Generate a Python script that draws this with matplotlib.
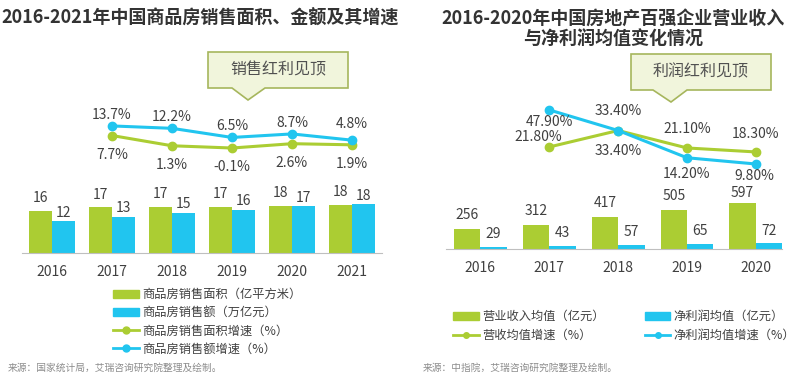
import numpy as np
import matplotlib.pyplot as plt
from matplotlib.patches import Polygon, Patch
from matplotlib.lines import Line2D

plt.rcParams['font.family'] = ['Noto Sans CJK SC', 'DejaVu Sans']

# left chart data
years_l = ['2016', '2017', '2018', '2019', '2020', '2021']
area = [15.7, 16.9, 17.2, 17.2, 17.6, 17.9]          # 亿平方米
area_lbl = ['16', '17', '17', '17', '18', '18']
amount = [11.8, 13.4, 15.0, 16.0, 17.4, 18.2]        # 万亿元
amount_lbl = ['12', '13', '15', '16', '17', '18']
area_growth = [7.7, 1.3, -0.1, 2.6, 1.9]             # 2017-2021
amount_growth = [13.7, 12.2, 6.5, 8.7, 4.8]

# right chart data
years_r = ['2016', '2017', '2018', '2019', '2020']
revenue = [256, 312, 417, 505, 597]
profit = [29, 43, 57, 65, 72]
rev_growth = [21.8, 33.4, 21.1, 18.3]                # 2017-2020
profit_growth = [47.9, 33.4, 14.2, 9.8]

GREEN = '#abcd33'
BLUE = '#21c5ef'
TXT = '#404040'

W, H = 800, 378
fig = plt.figure(figsize=(8, 3.78), dpi=100)


def rect(x0, y0, x1, y1):
    # pixel box (top-left origin) -> figure fraction
    return [x0 / W, 1 - y1 / H, (x1 - x0) / W, (y1 - y0) / H]


def fpts(pts):
    return [(x / W, 1 - y / H) for x, y in pts]


def callout(x0, y0, x1, y1, tip, text):
    bx0, tx, bx1, ty = tip
    pts = [(x0, y0), (x1, y0), (x1, y1), (bx1, y1), (tx, ty), (bx0, y1), (x0, y1)]
    fig.patches.append(Polygon(fpts(pts), closed=True, transform=fig.transFigure,
                               facecolor='#f1f5dc', edgecolor='#a6b65c', lw=1.2))
    fig.text((x0 + x1) / 2 / W, 1 - (y0 + y1) / 2 / H, text, ha='center', va='center',
             fontsize=11.5, color='#505050')


def style(ax):
    for s in ['top', 'right', 'left']:
        ax.spines[s].set_visible(False)
    ax.spines['bottom'].set_color('#bfbfbf')
    ax.set_yticks([])
    ax.tick_params(axis='x', length=0, labelsize=10, labelcolor=TXT, pad=9)


# ---------------- left chart ----------------
ax = fig.add_axes(rect(22, 100, 382, 253))
x = np.arange(len(years_l))
bw = 0.383
ax.bar(x - bw / 2, area, bw, color=GREEN)
ax.bar(x + bw / 2, amount, bw, color=BLUE)
ax.set_xlim(-0.5, 5.5)
ax.set_ylim(0, 56.7)
ax.set_xticks(x, years_l)
style(ax)
for xi, v, t in zip(x, area, area_lbl):
    ax.annotate(t, (xi - bw / 2, v), xytext=(0, 4), textcoords='offset points',
                ha='center', va='bottom', fontsize=10, color=TXT)
for xi, v, t in zip(x, amount, amount_lbl):
    ax.annotate(t, (xi + bw / 2, v), xytext=(0, 1), textcoords='offset points',
                ha='center', va='bottom', fontsize=10, color=TXT)

ax2 = ax.twinx()
ax2.set_ylim(-65.7, 29.9)
ax2.axis('off')
xl = x[1:]
ax2.plot(xl, area_growth, color=GREEN, lw=2.2, marker='o', ms=6)
ax2.plot(xl, amount_growth, color=BLUE, lw=2.2, marker='o', ms=6)
amt_off = [8, 8, 8, 8, 12]
for xi, v in zip(xl, area_growth):
    ax2.annotate(f'{v}%', (xi, v), xytext=(0, -14), textcoords='offset points',
                 ha='center', va='center', fontsize=10, color=TXT)
for xi, v, o in zip(xl, amount_growth, amt_off):
    ax2.annotate(f'{v}%', (xi, v), xytext=(0, o), textcoords='offset points',
                 ha='center', va='center', fontsize=10, color=TXT)

fig.text(200 / W, 1 - 18 / H, '2016-2021年中国商品房销售面积、金额及其增速',
         ha='center', va='center', fontsize=13, fontweight='bold', color='#333333')
callout(208, 52, 348, 88, (232, 248, 265, 100), '销售红利见顶')

ax.legend(handles=[Patch(color=GREEN, label='商品房销售面积（亿平方米）'),
                   Patch(color=BLUE, label='商品房销售额（万亿元）'),
                   Line2D([], [], color=GREEN, lw=2, marker='o', ms=5, label='商品房销售面积增速（%）'),
                   Line2D([], [], color=BLUE, lw=2, marker='o', ms=5, label='商品房销售额增速（%）')],
          loc='upper left', bbox_to_anchor=(107 / W, 1 - 282 / H), bbox_transform=fig.transFigure,
          frameon=False, fontsize=8.8, labelcolor=TXT, handlelength=2.1, handleheight=0.65,
          handletextpad=0.25, labelspacing=0.42, borderpad=0)

fig.text(8 / W, 1 - 368 / H, '来源：国家统计局，艾瑞咨询研究院整理及绘制。',
         ha='left', va='center', fontsize=7, color='#8c8c8c')

# ---------------- right chart ----------------
bx = fig.add_axes(rect(446, 100, 782, 249))
xr = np.arange(len(years_r))
bw = 0.384
bx.bar(xr - bw / 2, revenue, bw, color=GREEN)
bx.bar(xr + bw / 2, profit, bw, color=BLUE)
bx.set_xlim(-0.5, 4.38)
bx.set_ylim(0, 1933)
bx.set_xticks(xr, years_r)
style(bx)
rev_lbl_off = [5, 5, 5, 5, 2]
for xi, v, o in zip(xr, revenue, rev_lbl_off):
    bx.annotate(str(v), (xi - bw / 2, v), xytext=(0, o), textcoords='offset points',
                ha='center', va='bottom', fontsize=10, color=TXT)
for xi, v in zip(xr, profit):
    bx.annotate(str(v), (xi + bw / 2, v), xytext=(0, 4), textcoords='offset points',
                ha='center', va='bottom', fontsize=10, color=TXT)

bx2 = bx.twinx()
bx2.set_ylim(-50.1, 54.9)
bx2.axis('off')
xr2 = xr[1:]
bx2.plot(xr2, rev_growth, color=GREEN, lw=2.2, marker='o', ms=6)
bx2.plot(xr2, profit_growth, color=BLUE, lw=2.2, marker='o', ms=6)
rev_off = [(-8, 7), (0, 14), (0, 14), (0, 13)]
pro_off = [(0, -9), (0, -15), (0, -12), (-1, -9)]
for xi, v, o in zip(xr2, rev_growth, rev_off):
    bx2.annotate(f'{v:.2f}%', (xi, v), xytext=o, textcoords='offset points',
                 ha='center', va='center', fontsize=10, color=TXT)
for xi, v, o in zip(xr2, profit_growth, pro_off):
    bx2.annotate(f'{v:.2f}%', (xi, v), xytext=o, textcoords='offset points',
                 ha='center', va='center', fontsize=10, color=TXT)

fig.text(613 / W, 1 - 29 / H, '2016-2020年中国房地产百强企业营业收入\n与净利润均值变化情况',
         ha='center', va='center', fontsize=13, fontweight='bold', color='#333333',
         linespacing=1.15)
callout(631, 54, 771, 90, (653, 671, 687, 102), '利润红利见顶')

bx.legend(handles=[Patch(color=GREEN, label='营业收入均值（亿元）'),
                   Line2D([], [], color=GREEN, lw=2, marker='o', ms=4, label='营收均值增速（%）'),
                   Patch(color=BLUE, label='净利润均值（亿元）'),
                   Line2D([], [], color=BLUE, lw=2, marker='o', ms=4, label='净利润均值增速（%）')],
          ncol=2, loc='upper left', bbox_to_anchor=(447 / W, 1 - 304 / H), bbox_transform=fig.transFigure,
          frameon=False, fontsize=8.8, labelcolor=TXT, handlelength=2.1, handleheight=0.65,
          handletextpad=0.25, labelspacing=0.5, columnspacing=3.3, borderpad=0)

fig.text(423 / W, 1 - 368 / H, '来源：中指院，艾瑞咨询研究院整理及绘制。',
         ha='left', va='center', fontsize=7, color='#8c8c8c')

fig.savefig('out.png', dpi=100)
